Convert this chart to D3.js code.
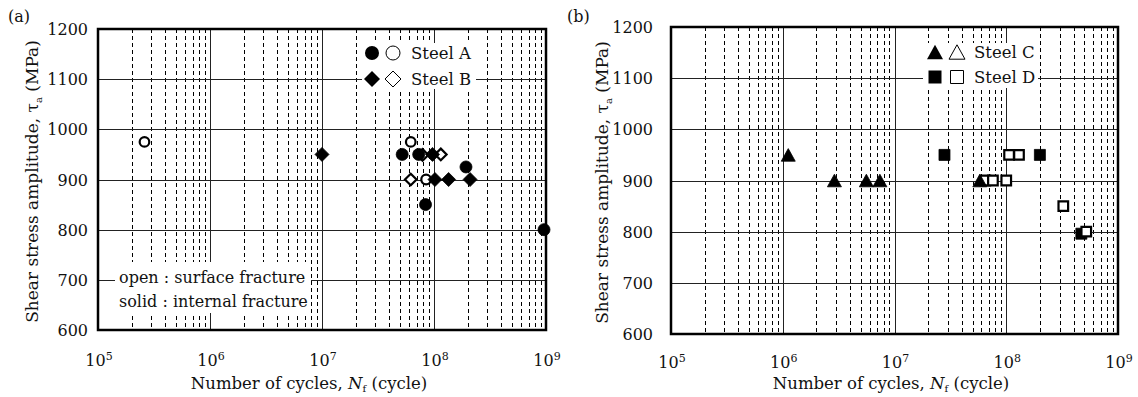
<!DOCTYPE html>
<html>
<head>
<meta charset="utf-8">
<script src="https://cdn.jsdelivr.net/npm/d3@7"></script>
<style>
  body { margin: 0; background: #fff; }
  svg { display: block; font-family: "DejaVu Serif", "Liberation Serif", serif; }
</style>
</head>
<body>
<div id="chart"></div>
<script>
// tick values
const xExps = [5, 6, 7, 8, 9];
const yTicks = [600, 700, 800, 900, 1000, 1100, 1200];

// panel (a) : [cycles, shear stress amplitude]
const steelASolid = [[5.2e7, 950], [7.3e7, 950], [1.93e8, 925], [8.4e7, 850], [9.6e8, 800]];
const steelAOpen = [[2.6e5, 975], [6.2e7, 975], [8.5e7, 900]];
const steelBSolid = [[1.0e7, 950], [9.7e7, 950], [1.02e8, 900], [1.35e8, 900], [2.1e8, 900]];
const steelBOpen = [[7.9e7, 949], [1.15e8, 950], [6.2e7, 900]];

// panel (b)
const steelCSolid = [[1.12e6, 950], [2.9e6, 900], [5.6e6, 900], [7.4e6, 900], [5.8e7, 900]];
const steelCOpen = [];
const steelDSolid = [[2.8e7, 950], [2.0e8, 950], [4.7e8, 796]];
const steelDOpen = [[1.06e8, 950], [1.3e8, 950], [6.5e7, 900], [7.6e7, 900], [1.0e8, 900], [3.24e8, 850], [5.2e8, 800]];

const svg = d3.select('#chart').append('svg')
    .attr('width', 1138)
    .attr('height', 397);

// marker shapes, centred on 0,0
function shapePath(kind, s) {
    if (kind === 'circle') {
        return d3.arc()({ innerRadius: 0, outerRadius: s, startAngle: 0, endAngle: 2 * Math.PI });
    }
    if (kind === 'diamond') {
        return `M0,${-s}L${s},0L0,${s}L${-s},0Z`;
    }
    if (kind === 'square') {
        return `M${-s},${-s}H${s}V${s}H${-s}Z`;
    }
    // triangle
    const h = s * 0.9;
    return `M0,${-h}L${s},${h}L${-s},${h}Z`;
}

const px = v => Math.round(v) + 0.5;

function drawPanel(cfg) {
    const x = d3.scaleLog().domain([1e5, 1e9]).range([cfg.left, cfg.right]);
    const y = d3.scaleLinear().domain([600, 1200]).range([cfg.bottom, cfg.top]);
    const g = svg.append('g');

    // minor dashed verticals
    const minors = [];
    xExps.slice(0, -1).forEach(e => {
        for (let k = 2; k <= 9; k++) minors.push(k * Math.pow(10, e));
    });
    g.selectAll('.minor').data(minors).join('line')
        .attr('x1', d => px(x(d))).attr('x2', d => px(x(d)))
        .attr('y1', cfg.top).attr('y2', cfg.bottom)
        .attr('stroke', '#000').attr('stroke-width', 1)
        .attr('shape-rendering', 'crispEdges')
        .attr('stroke-dasharray', '4,3');

    // major verticals
    g.selectAll('.majorx').data(xExps.slice(1, -1)).join('line')
        .attr('x1', d => px(x(Math.pow(10, d)))).attr('x2', d => px(x(Math.pow(10, d))))
        .attr('y1', cfg.top).attr('y2', cfg.bottom)
        .attr('stroke', '#222').attr('stroke-width', 1)
        .attr('shape-rendering', 'crispEdges');

    // horizontal grid
    g.selectAll('.majory').data(yTicks.slice(1, -1)).join('line')
        .attr('x1', cfg.left).attr('x2', cfg.right)
        .attr('y1', d => px(y(d))).attr('y2', d => px(y(d)))
        .attr('stroke', '#222').attr('stroke-width', 1)
        .attr('shape-rendering', 'crispEdges');

    // white boxes behind legends / notes
    cfg.boxes.forEach(b => {
        g.append('rect').attr('x', b[0]).attr('y', b[1])
            .attr('width', b[2] - b[0]).attr('height', b[3] - b[1])
            .attr('fill', '#fff');
    });

    // frame
    g.append('rect')
        .attr('x', cfg.left).attr('y', cfg.top)
        .attr('width', cfg.right - cfg.left).attr('height', cfg.bottom - cfg.top)
        .attr('fill', 'none').attr('stroke', '#000').attr('stroke-width', 2.5);

    // y tick labels
    g.selectAll('.ylab').data(yTicks).join('text')
        .attr('x', cfg.left - cfg.yLabOff).attr('y', d => y(d) + 6)
        .attr('text-anchor', 'end').attr('font-size', 16).attr('fill', '#111')
        .text(d => d);

    // x tick labels 10^n
    const xl = g.selectAll('.xlab').data(xExps).join('text')
        .attr('x', d => x(Math.pow(10, d)) + 1).attr('y', cfg.bottom + cfg.xLabOff)
        .attr('text-anchor', 'middle').attr('font-size', 16).attr('fill', '#111');
    xl.append('tspan').text('10');
    xl.append('tspan').attr('font-size', 11).attr('dy', -6).text(d => d);

    // axis titles
    const xt = g.append('text')
        .attr('x', cfg.xTitleX).attr('y', 389)
        .attr('text-anchor', 'middle').attr('font-size', 16.5).attr('fill', '#111');
    xt.append('tspan').text('Number of cycles, ');
    xt.append('tspan').attr('font-style', 'italic').text('N');
    xt.append('tspan').attr('font-size', 10).attr('dy', 3).text('f');
    xt.append('tspan').attr('dy', -3).text(' (cycle)');

    const yt = g.append('text')
        .attr('transform', `translate(${cfg.yTitleX},${(cfg.top + cfg.bottom) / 2 + 2}) rotate(-90)`)
        .attr('text-anchor', 'middle').attr('font-size', 17).attr('fill', '#111');
    yt.append('tspan').text('Shear stress amplitude, ');
    yt.append('tspan').text('τ');
    yt.append('tspan').attr('font-size', 10).attr('dy', 4).text('a');
    yt.append('tspan').attr('dy', -4).text(' (MPa)');

    // panel label
    g.append('text').attr('x', cfg.tagX).attr('y', 22)
        .attr('font-size', 16).attr('fill', '#111').text(cfg.tag);

    // data markers
    cfg.series.forEach(s => {
        g.selectAll(null).data(s.data).join('path')
            .attr('transform', d => `translate(${x(d[0])},${y(d[1])})`)
            .attr('d', shapePath(s.shape, s.size))
            .attr('fill', s.open ? '#fff' : '#000')
            .attr('stroke', '#000')
            .attr('stroke-width', s.open ? 2.2 : 0.8);
    });

    // legend
    cfg.legend.forEach((row, i) => {
        const ly = cfg.legY[i];
        g.append('path').attr('transform', `translate(${cfg.legX[0]},${ly})`)
            .attr('d', shapePath(row.shape, row.size)).attr('fill', '#000');
        g.append('path').attr('transform', `translate(${cfg.legX[1]},${ly})`)
            .attr('d', shapePath(row.shape, row.size)).attr('fill', '#fff')
            .attr('stroke', '#000').attr('stroke-width', 1);
        g.append('text').attr('x', cfg.legX[2]).attr('y', ly + 6)
            .attr('font-size', 16.5).attr('fill', '#111').text(row.label);
    });

    // note
    (cfg.notes || []).forEach((t, i) => {
        g.append('text').attr('x', cfg.noteX).attr('y', cfg.noteY[i] + 5)
            .attr('font-size', 16).attr('fill', '#111').text(t);
    });
}

drawPanel({
    left: 98, right: 546, top: 29, bottom: 330,
    yLabOff: 10, xLabOff: 36, xTitleX: 309, yTitleX: 38,
    tag: '(a)', tagX: 8,
    boxes: [[362, 43, 476, 89], [115, 262, 311, 313]],
    series: [
        { data: steelAOpen, shape: 'circle', size: 4.8, open: true },
        { data: steelBOpen, shape: 'diamond', size: 5.8, open: true },
        { data: steelASolid, shape: 'circle', size: 6, open: false },
        { data: steelBSolid, shape: 'diamond', size: 7, open: false }
    ],
    legend: [
        { shape: 'circle', size: 7, label: 'Steel A' },
        { shape: 'diamond', size: 8, label: 'Steel B' }
    ],
    legX: [372, 393, 411], legY: [53, 79],
    notes: ['open : surface fracture', 'solid : internal fracture'],
    noteX: 119, noteY: [278, 302]
});

drawPanel({
    left: 671, right: 1118, top: 27, bottom: 334,
    yLabOff: 18, xLabOff: 34, xTitleX: 891, yTitleX: 608,
    tag: '(b)', tagX: 567,
    boxes: [[923, 43, 1038, 88]],
    series: [
        { data: steelDSolid, shape: 'square', size: 5.5, open: false },
        { data: steelDOpen, shape: 'square', size: 4.8, open: true },
        { data: steelCOpen, shape: 'triangle', size: 5.5, open: true },
        { data: steelCSolid, shape: 'triangle', size: 7, open: false }
    ],
    legend: [
        { shape: 'triangle', size: 8, label: 'Steel C' },
        { shape: 'square', size: 6.5, label: 'Steel D' }
    ],
    legX: [935, 957, 974], legY: [52, 77]
});
</script>
</body>
</html>
